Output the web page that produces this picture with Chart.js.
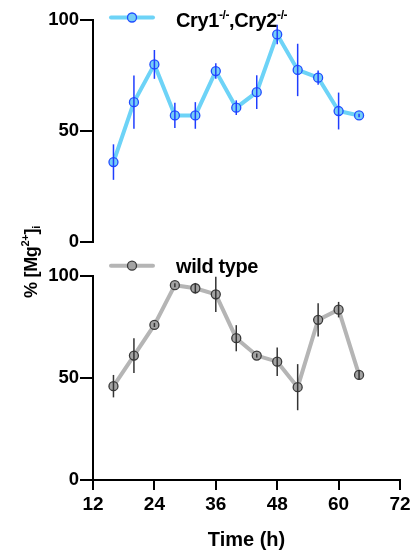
<!DOCTYPE html>
<html>
<head>
<meta charset="utf-8">
<script src="https://cdn.jsdelivr.net/npm/chart.js@4.4.1/dist/chart.umd.min.js"></script>
<style>
  html, body { margin: 0; padding: 0; background: #fff; }
  body { width: 415px; height: 558px; position: relative; overflow: hidden;
         font-family: "Liberation Sans", Arial, sans-serif; font-weight: bold; color: #000; }
  canvas { position: absolute; left: 0; }
  #topChart { top: 0; }
  #bottomChart { top: 255px; }
  .leg { position: absolute; left: 176px; font-size: 20px; line-height: 20px; white-space: nowrap; letter-spacing: -0.4px; }
  .leg sup { font-size: 12px; line-height: 0; vertical-align: baseline; position: relative; top: -8px; }
  #ytitle { position: absolute; left: 31px; top: 262px; width: 100px; text-align: center;
            font-size: 18px; line-height: 20px; white-space: nowrap; letter-spacing: -0.3px;
            transform: translate(-50%, -50%) rotate(-90deg); }
  #ytitle sup, #ytitle sub { font-size: 11px; line-height: 0; vertical-align: baseline; position: relative; }
  #ytitle sup { top: -8px; }
  #ytitle sub { top: 3px; }
</style>
</head>
<body>
<canvas id="topChart" width="415" height="255"></canvas>
<canvas id="bottomChart" width="415" height="303"></canvas>
<div class="leg" style="top:10px">Cry1<sup>-/-</sup>,Cry2<sup>-/-</sup></div>
<div class="leg" style="top:256px">wild type</div>
<div id="ytitle">% [Mg<sup>2+</sup>]<sub>i</sub></div>
<script>
const FONT = '"Liberation Sans", Arial, sans-serif';

// time points (h)
const times = [16, 20, 24, 28, 32, 36, 40, 44, 48, 52, 56, 60, 64];

// Cry1-/-,Cry2-/- mean and SEM
const cryMean = [36, 63, 80, 57, 57, 77, 60.5, 67.5, 93.5, 77.5, 74, 59, 57];
const cryErr = [8, 12, 6.5, 5.7, 6, 3.5, 3.3, 7.6, 4.4, 11.8, 3.2, 8.3, 0.8];

// wild type mean and SEM
const wtMean = [46, 61, 76, 95.5, 94, 91, 69.5, 61, 58, 45.5, 78.5, 83.5, 51.5];
const wtErr = [5.5, 8.5, 1, 1, 2.6, 8.6, 6.4, 1, 7, 11.3, 8.2, 3.8, 2.4];

const xTicks = [12, 24, 36, 48, 60, 72];
const yTicks = [0, 50, 100];

// vertical SEM bars, drawn over the line and markers
const errorBars = {
  id: "errorBars",
  afterDatasetsDraw(chart, args, opts) {
    const { ctx, scales: { x, y } } = chart;
    ctx.save();
    ctx.strokeStyle = opts.color;
    ctx.lineWidth = 1.5;
    times.forEach((t, i) => {
      const px = x.getPixelForValue(t);
      ctx.beginPath();
      ctx.moveTo(px, y.getPixelForValue(opts.mean[i] + opts.err[i]));
      ctx.lineTo(px, y.getPixelForValue(opts.mean[i] - opts.err[i]));
      ctx.stroke();
    });
    ctx.restore();
  }
};

// legend sample (line with marker); text is html
const legendSample = {
  id: "legendSample",
  afterDraw(chart, args, opts) {
    const ds = chart.data.datasets[0];
    const ctx = chart.ctx;
    ctx.save();
    ctx.strokeStyle = ds.borderColor;
    ctx.lineWidth = 4;
    ctx.lineCap = "round";
    ctx.beginPath();
    ctx.moveTo(111, opts.y);
    ctx.lineTo(153, opts.y);
    ctx.stroke();
    ctx.beginPath();
    ctx.arc(132, opts.y, ds.pointRadius, 0, Math.PI * 2);
    ctx.fillStyle = ds.pointBackgroundColor;
    ctx.fill();
    ctx.lineWidth = ds.pointBorderWidth;
    ctx.strokeStyle = ds.pointBorderColor;
    ctx.stroke();
    ctx.restore();
  }
};

function yScale() {
  return {
    type: "linear",
    min: 0,
    max: 100,
    afterBuildTicks: (s) => { s.ticks = yTicks.map((v) => ({ value: v })); },
    afterFit: (s) => { s.width = 93; },
    border: { display: true, color: "#000", width: 2 },
    grid: { drawOnChartArea: false, drawTicks: true, tickLength: 13, lineWidth: 2, tickWidth: 2, tickColor: "#000" },
    ticks: { color: "#000", font: { family: FONT, size: 18.5, weight: "bold" }, padding: 1 }
  };
}

function series(mean, line, fill, edge) {
  return {
    data: times.map((t, i) => ({ x: t, y: mean[i] })),
    borderColor: line,
    borderWidth: 4,
    tension: 0,
    fill: false,
    pointRadius: 4.5,
    pointBackgroundColor: fill,
    pointBorderColor: edge,
    pointBorderWidth: 1.3,
    clip: false
  };
}

new Chart(document.getElementById("topChart"), {
  type: "line",
  data: { datasets: [series(cryMean, "#6dd3f7", "#76cef5", "#1f4dff")] },
  options: {
    responsive: false,
    animation: false,
    events: [],
    layout: { padding: { top: 20, bottom: 13, left: 0, right: 15 } },
    plugins: {
      legend: { display: false },
      tooltip: { enabled: false },
      errorBars: { mean: cryMean, err: cryErr, color: "#1f3dff" },
      legendSample: { y: 17.5 }
    },
    scales: {
      x: { type: "linear", min: 12, max: 72, display: false },
      y: yScale()
    }
  },
  plugins: [errorBars, legendSample]
});

new Chart(document.getElementById("bottomChart"), {
  type: "line",
  data: { datasets: [series(wtMean, "#b5b5b5", "#a3a3a3", "#3a3a3a")] },
  options: {
    responsive: false,
    animation: false,
    events: [],
    layout: { padding: { top: 21, bottom: 0, left: 0, right: 15 } },
    plugins: {
      legend: { display: false },
      tooltip: { enabled: false },
      errorBars: { mean: wtMean, err: wtErr, color: "#333" },
      legendSample: { y: 10.7 }
    },
    scales: {
      x: {
        type: "linear",
        min: 12,
        max: 72,
        afterBuildTicks: (s) => { s.ticks = xTicks.map((v) => ({ value: v })); },
        afterFit: (s) => { s.height = 78; },
        border: { display: true, color: "#000", width: 2 },
        grid: { drawOnChartArea: false, drawTicks: true, tickLength: 10, lineWidth: 2, tickWidth: 2, tickColor: "#000" },
        ticks: { color: "#000", font: { family: FONT, size: 19, weight: "bold" }, padding: 3, maxRotation: 0 },
        title: {
          display: true,
          text: "Time (h)",
          color: "#000",
          font: { family: FONT, size: 20, weight: "bold" },
          padding: { top: 0, bottom: 6 }
        }
      },
      y: yScale()
    }
  },
  plugins: [errorBars, legendSample]
});
</script>
</body>
</html>
